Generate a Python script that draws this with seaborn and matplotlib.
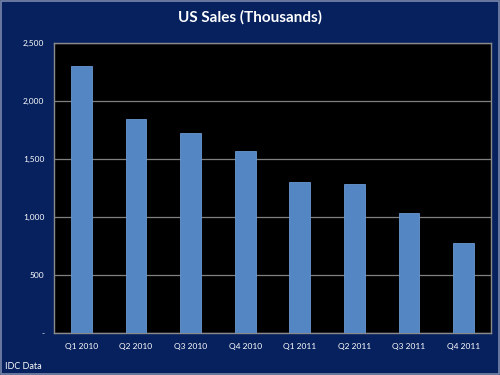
import matplotlib
matplotlib.use('Agg')
import matplotlib.pyplot as plt
import seaborn as sns
import pandas as pd
from matplotlib.patches import Rectangle

quarters = ['Q1 2010', 'Q2 2010', 'Q3 2010', 'Q4 2010',
            'Q1 2011', 'Q2 2011', 'Q3 2011', 'Q4 2011']
sales = [2302, 1846, 1724, 1570, 1299, 1284, 1034, 780]
yticks = [0, 500, 1000, 1500, 2000, 2500]
ytick_labels = ['-', '500', '1,000', '1,500', '2,000', '2,500']

df = pd.DataFrame({'quarter': quarters, 'sales': sales})

sns.set_style('dark')
plt.rcParams['font.family'] = ['Lato', 'DejaVu Sans']

navy = '#06215e'
fig = plt.figure(figsize=(5, 3.75), dpi=100, facecolor=navy)
ax = fig.add_axes([0.108, 0.112, 0.874, 0.773])
ax.set_facecolor('black')

sns.barplot(data=df, x='quarter', y='sales', color='#5486c4', saturation=1,
            width=0.38, ax=ax, zorder=3, edgecolor='#6a98d2', linewidth=0.6)

ax.set_ylim(0, 2500)
ax.set_yticks(yticks)
ax.set_yticklabels(ytick_labels)
ax.yaxis.grid(True, color='#808080', linewidth=0.9, zorder=0)
ax.xaxis.grid(False)
ax.set_axisbelow(True)
ax.set_xlabel('')
ax.set_ylabel('')
ax.tick_params(colors='white', labelsize=6, length=0, pad=7)
for s in ax.spines.values():
    s.set_visible(True)
    s.set_color('#8a8a8a')
    s.set_linewidth(1)

fig.text(0.5, 0.955, 'US Sales (Thousands)', color='white', fontsize=11,
         fontweight='bold', ha='center', va='center')
fig.text(0.01, 0.022, 'IDC Data', color='white', fontsize=6.5,
         ha='left', va='center')
fig.patches.append(Rectangle((0.002, 0.003), 0.996, 0.994, transform=fig.transFigure,
                             fill=False, edgecolor='#7a88aa', linewidth=1.2))

fig.savefig('out.png', dpi=100, facecolor=navy)
